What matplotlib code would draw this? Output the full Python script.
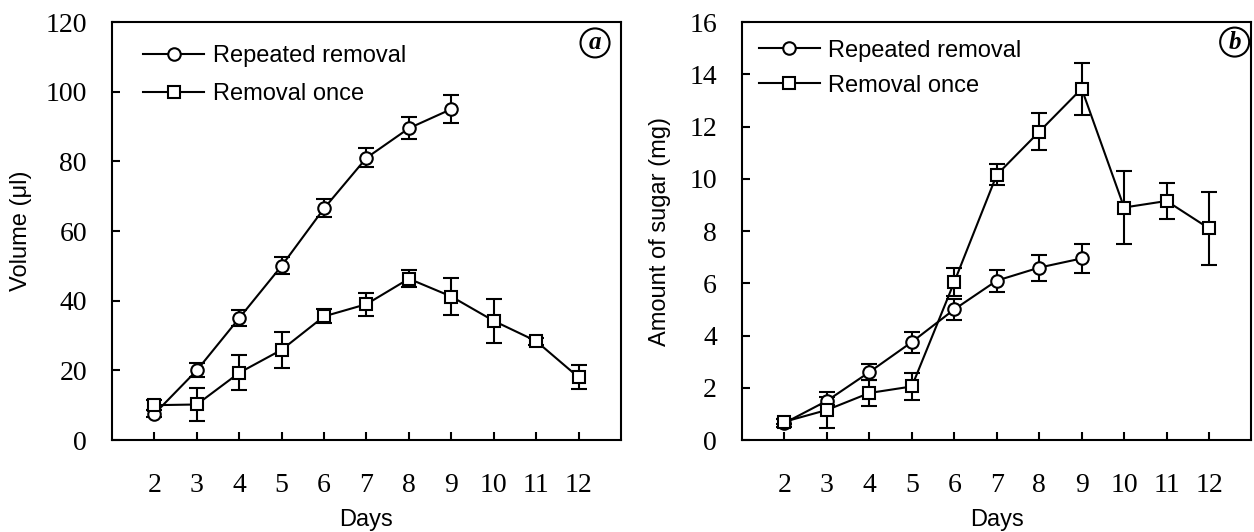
import matplotlib
matplotlib.use("Agg")
import matplotlib.pyplot as plt
from matplotlib.lines import Line2D

# ---- data ----
days_rep = [2, 3, 4, 5, 6, 7, 8, 9]
days_once = [2, 3, 4, 5, 6, 7, 8, 9, 10, 11, 12]

vol_rep = [7.5, 20, 35, 50, 66.5, 81, 89.5, 95]
vol_rep_err = [1.0, 2.0, 2.4, 2.4, 2.6, 2.7, 3.2, 4.0]
vol_once = [10, 10.2, 19.3, 25.9, 35.5, 39.0, 46.3, 41.2, 34.2, 28.4, 18]
vol_once_err = [1.5, 4.7, 5.0, 5.2, 2.0, 3.3, 2.5, 5.3, 6.4, 1.0, 3.4]

sug_rep = [0.65, 1.5, 2.6, 3.75, 5.0, 6.1, 6.6, 6.95]
sug_rep_err = [0.15, 0.15, 0.3, 0.4, 0.4, 0.42, 0.5, 0.55]
sug_once = [0.7, 1.15, 1.8, 2.05, 6.05, 10.15, 11.8, 13.45, 8.9, 9.15, 8.1]
sug_once_err = [0.1, 0.7, 0.5, 0.5, 0.55, 0.4, 0.7, 1.0, 1.4, 0.7, 1.4]

xticks = [2, 3, 4, 5, 6, 7, 8, 9, 10, 11, 12]
yticks_a = [0, 20, 40, 60, 80, 100, 120]
yticks_b = [0, 2, 4, 6, 8, 10, 12, 14, 16]
labels = ["Repeated removal", "Removal once"]

plt.rcParams['font.family'] = ['Liberation Sans', 'DejaVu Sans']

fig = plt.figure(figsize=(12.54, 5.32), dpi=100)
ax_a = fig.add_axes([0.0893, 0.1729, 0.4059, 0.7857])
ax_b = fig.add_axes([0.5917, 0.1729, 0.4063, 0.7857])

LW = 1.5
MS = 9


def draw(ax, rep, rep_err, once, once_err, yticks, ylim, ylabel, ylab_x,
         letter, letter_xy, leg_anchor, leg_spacing):
    common = dict(color='black', lw=LW, elinewidth=LW, capsize=6, capthick=LW,
                  markersize=MS, markerfacecolor='white', markeredgecolor='black',
                  markeredgewidth=1.5)
    ax.errorbar(days_rep, rep, yerr=rep_err, marker='o', **common)
    ax.errorbar(days_once, once, yerr=once_err, marker='s', **common)
    ax.set_xlim(1, 13)
    ax.set_ylim(*ylim)
    ax.set_xticks(xticks)
    ax.set_yticks(yticks)
    for s in ax.spines.values():
        s.set_linewidth(LW)
    ax.tick_params(axis='both', direction='in', length=6, width=LW)
    ax.tick_params(axis='x', pad=24)
    ax.tick_params(axis='y', pad=18)
    for t in ax.get_xticklabels() + ax.get_yticklabels():
        t.set_fontfamily('Liberation Serif')
        t.set_fontsize(20)
    ax.set_xlabel("Days", fontsize=17)
    ax.xaxis.set_label_coords(0.5, -0.165)
    ax.set_ylabel(ylabel, fontsize=17)
    ax.yaxis.set_label_coords(ylab_x, 0.5)
    hstyle = dict(color='black', lw=LW, markersize=MS, markerfacecolor='white',
                  markeredgecolor='black', markeredgewidth=1.5)
    handles = [Line2D([], [], marker='o', **hstyle),
               Line2D([], [], marker='s', **hstyle)]
    ax.legend(handles, labels, loc='upper left', bbox_to_anchor=leg_anchor,
              frameon=False, fontsize=17, handlelength=2.6, handletextpad=0.35,
              borderpad=0, borderaxespad=0, labelspacing=leg_spacing)
    ax.text(letter_xy[0], letter_xy[1], letter, transform=ax.transAxes,
            fontfamily='Liberation Serif', fontstyle='italic', fontweight='bold',
            fontsize=18, ha='center', va='center',
            bbox=dict(boxstyle='circle,pad=0.12', fc='white', ec='black', lw=1.5))


draw(ax_a, vol_rep, vol_rep_err, vol_once, vol_once_err, yticks_a, (0, 120),
     "Volume (\u03bcl)", -0.158, "a", (0.949, 0.95), (0.061, 0.945), 0.68)
draw(ax_b, sug_rep, sug_rep_err, sug_once, sug_once_err, yticks_b, (0, 16),
     "Amount of sugar (mg)", -0.14, "b", (0.967, 0.952), (0.033, 0.958), 0.55)

fig.savefig("out.png", dpi=100)
